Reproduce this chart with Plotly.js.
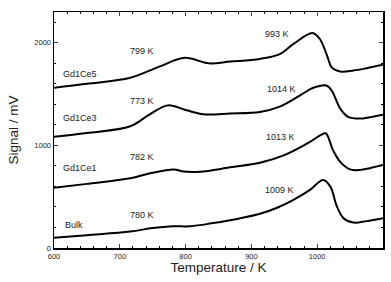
<!DOCTYPE html>
<html><head><meta charset="utf-8">
<script src="https://cdn.plot.ly/plotly-3.0.1.min.js"></script>
<style>html,body{margin:0;padding:0;background:#fff}#chart{width:391px;height:282px}</style>
</head><body><div id="chart"></div>
<script>
var tempBulk   = [600, 650, 716, 750, 780, 807, 842, 880, 913, 940, 964, 989, 1009, 1020, 1030, 1040, 1055, 1075, 1100];
var bulk       = [100, 125, 160, 195, 212, 212, 243, 285, 333, 395, 469, 566, 663, 598, 404, 291, 248, 262, 291];
var tempGd1Ce1 = [600, 650, 716, 746, 782, 797, 822, 868, 913, 950, 989, 1005, 1013, 1024, 1035, 1050, 1065, 1080, 1100];
var gd1Ce1     = [588, 625, 679, 728, 766, 745, 743, 786, 830, 905, 1034, 1100, 1118, 954, 840, 766, 760, 778, 808];
var tempGd1Ce3 = [600, 650, 716, 745, 773, 800, 827, 868, 913, 944, 974, 994, 1014, 1022, 1035, 1047, 1065, 1080, 1100];
var gd1Ce3     = [1083, 1120, 1186, 1300, 1390, 1345, 1303, 1310, 1325, 1380, 1487, 1562, 1584, 1535, 1358, 1277, 1261, 1275, 1300];
var tempGd1Ce5 = [600, 650, 716, 760, 799, 835, 868, 913, 944, 964, 993, 1004, 1015, 1022, 1035, 1055, 1075, 1100];
var gd1Ce5     = [1562, 1600, 1659, 1768, 1853, 1800, 1817, 1843, 1892, 1989, 2095, 2037, 1875, 1761, 1720, 1730, 1752, 1785];

var labelText = ["Gd1Ce5", "799 K", "993 K", "Gd1Ce3", "773 K", "1014 K", "Gd1Ce1", "782 K", "1013 K", "Bulk", "780 K", "1009 K"];
var labelT    = [640, 733, 939, 640, 733, 946, 640, 733, 944, 631, 733, 942];
var labelV    = [1691, 1924, 2086, 1271, 1432, 1552, 776, 889, 1083, 226, 323, 566];

function tr(x, y) {
  return {x: x, y: y, mode: 'lines', type: 'scatter', line: {color: '#000', width: 2, shape: 'spline', smoothing: 1}, hoverinfo: 'skip', showlegend: false};
}
var data = [tr(tempBulk, bulk), tr(tempGd1Ce1, gd1Ce1), tr(tempGd1Ce3, gd1Ce3), tr(tempGd1Ce5, gd1Ce5)];

var annotations = labelText.map(function(t, i) {
  return {x: labelT[i], y: labelV[i], text: t, showarrow: false, xref: 'x', yref: 'y', font: {size: 9, color: '#222', family: 'Liberation Sans, Arial, sans-serif'}};
});

var layout = {
  width: 391, height: 282,
  margin: {l: 53.5, r: 8, t: 11.5, b: 34, pad: 0},
  paper_bgcolor: '#fff', plot_bgcolor: '#fff',
  font: {family: 'Liberation Sans, Arial, sans-serif', color: '#000'},
  showlegend: false,
  xaxis: {
    range: [600, 1100], tickvals: [600, 700, 800, 900, 1000, 1100], ticks: 'inside', ticklen: 4, tickwidth: 1,
    tickfont: {size: 7.5, color: '#222'}, showline: true, linecolor: '#000', linewidth: 1.5, mirror: 'ticks',
    showgrid: false, zeroline: false,
    minor: {dtick: 20, ticks: 'inside', ticklen: 2, tickwidth: 1, tickcolor: '#000', showgrid: false},
    title: {text: 'Temperature / K', font: {size: 13.5, color: '#222'}, standoff: 2}
  },
  yaxis: {
    range: [0, 2300], tickvals: [0, 1000, 2000], ticks: 'inside', ticklen: 4, tickwidth: 1,
    tickfont: {size: 7.5, color: '#222'}, showline: true, linecolor: '#000', linewidth: 1.5, mirror: 'ticks',
    showgrid: false, zeroline: false,
    minor: {dtick: 200, ticks: 'inside', ticklen: 2, tickwidth: 1, tickcolor: '#000', showgrid: false},
    title: {text: 'Signal / mV', font: {size: 13.5, color: '#222'}, standoff: 12}
  },
  annotations: annotations
};
Plotly.newPlot('chart', data, layout, {displayModeBar: false, staticPlot: true});
</script></body></html>
